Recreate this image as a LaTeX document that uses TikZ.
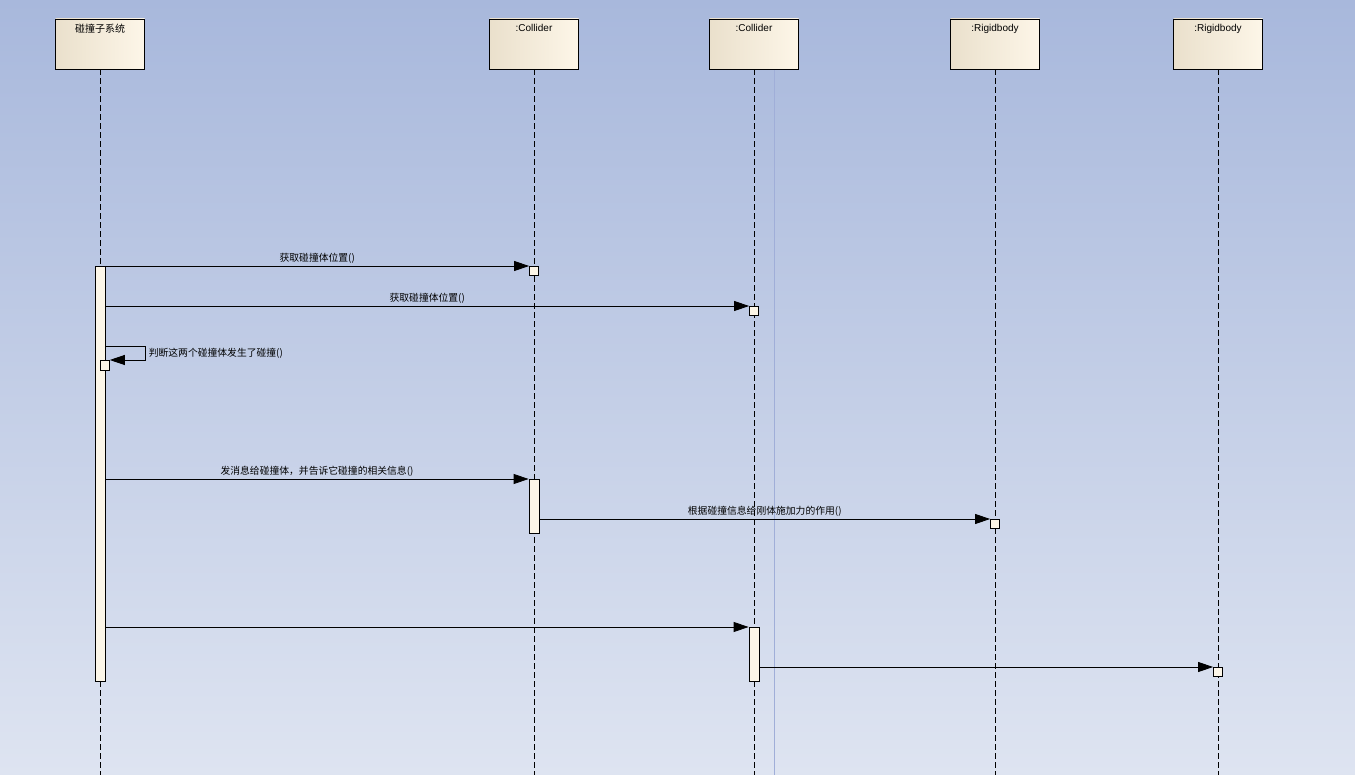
\documentclass[tikz,border=0pt]{standalone}
\usepackage{fontspec}
\setmainfont{Liberation Sans}
\newfontfamily\cjk{Noto Sans CJK SC}
\usetikzlibrary{arrows.meta, positioning}
\definecolor{bgtop}{RGB}{168,184,220}
\definecolor{bgbot}{RGB}{222,228,241}
\definecolor{headl}{RGB}{234,224,204}
\definecolor{headr}{RGB}{253,246,232}
\definecolor{barfill}{RGB}{252,246,232}
\definecolor{splitline}{RGB}{160,174,216}

\begin{document}
\begin{tikzpicture}[x=1pt, y=-1pt, >={Triangle[length=15pt, width=10pt]},
  head/.style={draw=black, line width=0.9pt, left color=headl, right color=headr,
               minimum width=89pt, minimum height=50pt, inner sep=0pt},
  headtxt/.style={anchor=north, yshift=-2pt, font=\fontsize{10}{12}\selectfont},
  life/.style={line width=0.8pt, dash pattern=on 6pt off 3pt},
  bar/.style={draw=black, line width=0.8pt, fill=barfill, minimum width=10pt,
              inner sep=0pt, anchor=north},
  retbox/.style={bar, minimum width=9pt, minimum height=9pt},
  msg/.style={->, line width=0.8pt},
  msgtxt/.style={above, inner sep=2pt, font=\cjk\fontsize{9.8}{11}\selectfont}]
  % Background
  \useasboundingbox (0,0) rectangle (1355,775);
  \shade[top color=bgtop, bottom color=bgbot] (0,0) rectangle (1355,775);
  \draw[splitline, line width=0.7pt] (774,70) -- (774,775);
  
  % Lifeline heads
  \node[head, label={[headtxt]north:{\cjk 碰撞子系统}}] (sys) at (100,44) {};
  \node[head, label={[headtxt]north::Collider}] (col1) at (534,44) {};
  \node[head, label={[headtxt]north::Collider}] (col2) at (754,44) {};
  \node[head, label={[headtxt]north::Rigidbody}] (rig1) at (995,44) {};
  \node[head, label={[headtxt]north::Rigidbody}] (rig2) at (1218,44) {};
  \coordinate (bottom) at (0,775);
  
  % Lifelines
  \foreach \n in {sys,col1,col2,rig1,rig2}
    \draw[life] (\n.south) -- (\n.south |- bottom);
  
  % Activations
  \node[bar, minimum height=415pt] (sysbar) at (sys |- 0,266) {};
  \node[retbox] (r1) at (col1 |- 0,266) {};
  \node[retbox] (r2) at (col2 |- 0,306) {};
  \node[bar, minimum width=9pt, minimum height=10pt, anchor=north west] (s1) at (sys |- 0,360) {};
  \node[bar, minimum height=54pt] (col1bar) at (col1 |- 0,479) {};
  \node[retbox] (r3) at (rig1 |- 0,519) {};
  \node[bar, minimum height=54pt] (col2bar) at (col2 |- 0,627) {};
  \node[retbox] (r4) at (rig2 |- 0,667) {};
  
  % Messages
  \draw[msg] (sysbar.north east) -- node[msgtxt] {获取碰撞体位置()} (r1.north west);
  \draw[msg] (sysbar.east |- r2.north) -- node[msgtxt] {获取碰撞体位置()} (r2.north west);
  \coordinate (selfout) at ([yshift=14pt]s1.north east);
  \draw[msg] (selfout -| sysbar.east) -- ++(40,0)
    |- node[pos=0.25, right, inner sep=3pt, font=\cjk\fontsize{9.8}{11}\selectfont]
       {判断这两个碰撞体发生了碰撞()} (s1.north east);
  \draw[msg] (sysbar.east |- col1bar.north) --
    node[msgtxt] {发消息给碰撞体，并告诉它碰撞的相关信息()} (col1bar.north west);
  \draw[msg] (col1bar.east |- r3.north) --
    node[msgtxt] {根据碰撞信息给刚体施加力的作用()} (r3.north west);
  \draw[msg] (sysbar.east |- col2bar.north) -- (col2bar.north west);
  \draw[msg] (col2bar.east |- r4.north) -- (r4.north west);
\end{tikzpicture}
\end{document}
